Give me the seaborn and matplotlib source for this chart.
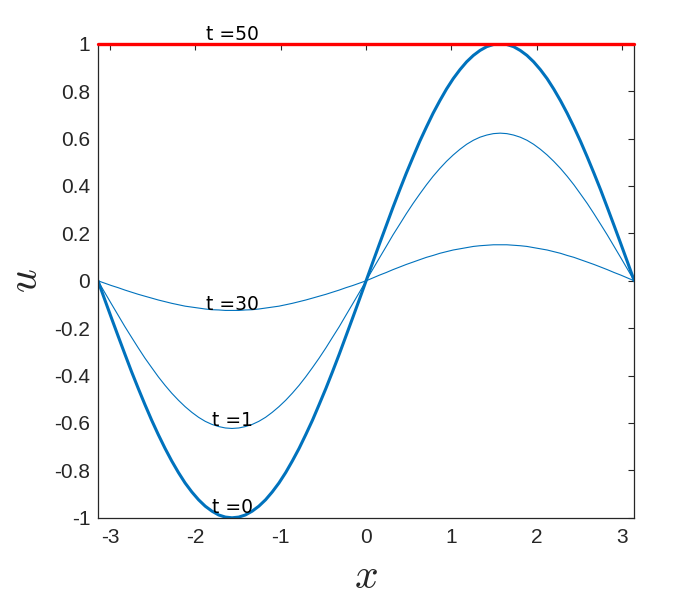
import matplotlib
import matplotlib.pyplot as plt
import numpy as np
import pandas as pd
import seaborn as sns

matplotlib.use("Agg")

# ── Data ──────────────────────────────────────────────────────────────────────

x_vals = [
    -3.142, -3.063, -2.985, -2.906, -2.827, -2.749, -2.670, -2.592, -2.513, -2.435,
    -2.356, -2.278, -2.199, -2.121, -2.042, -1.963, -1.885, -1.806, -1.728, -1.649,
    -1.571, -1.492, -1.414, -1.335, -1.257, -1.178, -1.100, -1.021, -0.942, -0.864,
    -0.785, -0.707, -0.628, -0.550, -0.471, -0.393, -0.314, -0.236, -0.157, -0.079,
    0.000,
    0.079, 0.157, 0.236, 0.314, 0.393, 0.471, 0.550, 0.628, 0.707, 0.785,
    0.864, 0.942, 1.021, 1.100, 1.178, 1.257, 1.335, 1.414, 1.492, 1.571,
    1.649, 1.728, 1.806, 1.885, 1.963, 2.042, 2.121, 2.199, 2.278, 2.356,
    2.435, 2.513, 2.592, 2.670, 2.749, 2.827, 2.906, 2.985, 3.063, 3.142,
]

# t = 0 (thick)
u_t0 = [
    0.000, -0.079, -0.156, -0.233, -0.309, -0.383, -0.454, -0.522, -0.588, -0.649,
    -0.707, -0.760, -0.809, -0.853, -0.891, -0.924, -0.951, -0.972, -0.988, -0.997,
    -1.000, -0.997, -0.988, -0.972, -0.951, -0.924, -0.891, -0.853, -0.809, -0.760,
    -0.707, -0.649, -0.588, -0.522, -0.454, -0.383, -0.309, -0.233, -0.156, -0.079,
    0.000,
    0.079, 0.156, 0.233, 0.309, 0.383, 0.454, 0.522, 0.588, 0.649, 0.707,
    0.760, 0.809, 0.853, 0.891, 0.924, 0.951, 0.972, 0.988, 0.997, 1.000,
    0.997, 0.988, 0.972, 0.951, 0.924, 0.891, 0.853, 0.809, 0.760, 0.707,
    0.649, 0.588, 0.522, 0.454, 0.383, 0.309, 0.233, 0.156, 0.079, 0.000,
]

# t = 1
u_t1 = [
    0.000, -0.049, -0.097, -0.145, -0.193, -0.238, -0.283, -0.326, -0.366, -0.405,
    -0.441, -0.474, -0.504, -0.531, -0.555, -0.576, -0.593, -0.606, -0.615, -0.621,
    -0.623, -0.621, -0.615, -0.606, -0.593, -0.576, -0.555, -0.531, -0.504, -0.474,
    -0.441, -0.405, -0.366, -0.326, -0.283, -0.238, -0.193, -0.145, -0.097, -0.049,
    0.000,
    0.049, 0.097, 0.145, 0.193, 0.238, 0.283, 0.326, 0.366, 0.405, 0.441,
    0.474, 0.504, 0.531, 0.555, 0.576, 0.593, 0.606, 0.615, 0.621, 0.623,
    0.621, 0.615, 0.606, 0.593, 0.576, 0.555, 0.531, 0.504, 0.474, 0.441,
    0.405, 0.366, 0.326, 0.283, 0.238, 0.193, 0.145, 0.097, 0.049, 0.000,
]

# t = 30
u_t30 = [
    0.000, -0.010, -0.020, -0.029, -0.039, -0.048, -0.057, -0.065, -0.073, -0.081,
    -0.088, -0.095, -0.101, -0.107, -0.111, -0.115, -0.119, -0.122, -0.123, -0.125,
    -0.125, -0.125, -0.123, -0.122, -0.119, -0.115, -0.111, -0.107, -0.101, -0.095,
    -0.088, -0.081, -0.073, -0.065, -0.057, -0.048, -0.039, -0.029, -0.020, -0.010,
    0.000,
    0.012, 0.024, 0.035, 0.047, 0.058, 0.069, 0.079, 0.089, 0.099, 0.107,
    0.116, 0.123, 0.130, 0.135, 0.140, 0.145, 0.148, 0.150, 0.152, 0.152,
    0.152, 0.150, 0.148, 0.145, 0.140, 0.135, 0.130, 0.123, 0.116, 0.107,
    0.099, 0.089, 0.079, 0.069, 0.058, 0.047, 0.035, 0.024, 0.012, 0.000,
]

# t = 50 (steady state)
x_t50 = [-3.142, 3.142]
u_t50 = [1.0, 1.0]

label_text = ["t =50", "t =30", "t =1", "t =0"]
label_x = [-1.57, -1.57, -1.57, -1.57]
label_y = [1.015, -0.122, -0.611, -0.979]

x_ticks = [-3, -2, -1, 0, 1, 2, 3]
y_ticks = [-1, -0.8, -0.6, -0.4, -0.2, 0, 0.2, 0.4, 0.6, 0.8, 1]
y_ticklabels = ["-1", "-0.8", "-0.6", "-0.4", "-0.2", "0", "0.2", "0.4", "0.6", "0.8", "1"]

BLUE = "#0072BD"
RED = "#FF0000"
INK = "#262626"

# ── Plot ──────────────────────────────────────────────────────────────────────

sns.set_theme(style="white")
plt.rcParams["font.family"] = ["Liberation Sans", "DejaVu Sans"]
plt.rcParams["mathtext.fontset"] = "cm"

df = pd.DataFrame({"x": x_vals, "t0": u_t0, "t1": u_t1, "t30": u_t30})
df50 = pd.DataFrame({"x": x_t50, "u": u_t50})

fig = plt.figure(figsize=(7, 6), dpi=100)
ax = fig.add_axes([0.14, 0.137, 0.766, 0.79])

sns.lineplot(data=df, x="x", y="t0", ax=ax, color=BLUE, linewidth=2.2, sort=False)
sns.lineplot(data=df, x="x", y="t1", ax=ax, color=BLUE, linewidth=0.8, sort=False)
sns.lineplot(data=df, x="x", y="t30", ax=ax, color=BLUE, linewidth=0.8, sort=False)
sns.lineplot(data=df50, x="x", y="u", ax=ax, color=RED, linewidth=2.4, sort=False,
             clip_on=False, zorder=5)

for txt, tx, ty in zip(label_text, label_x, label_y):
    ax.text(tx, ty, txt, ha="center", va="baseline", fontsize=13.5,
            family="DejaVu Sans", color="black", clip_on=False)

ax.set_xlim(-np.pi, np.pi)
ax.set_ylim(-1, 1)
ax.set_xticks(x_ticks)
ax.set_xticklabels([str(t) for t in x_ticks])
ax.set_yticks(y_ticks)
ax.set_yticklabels(y_ticklabels)
ax.tick_params(direction="in", length=4, width=0.8, colors=INK, labelsize=15,
               top=True, right=True)
ax.tick_params(axis="x", pad=7)
ax.tick_params(axis="y", pad=5.5)

for sp in ax.spines.values():
    sp.set_visible(True)
    sp.set_color(INK)
    sp.set_linewidth(0.9)

ax.set_xlabel(r"$x$", fontsize=30, color=INK)
ax.xaxis.label.set_va("center")
ax.xaxis.set_label_coords(0.5, -0.124)
ax.set_ylabel(r"$u$", fontsize=30, color=INK)
ax.yaxis.label.set_va("center")
ax.yaxis.label.set_ha("center")
ax.yaxis.set_label_coords(-0.134, 0.5)

fig.savefig("out.png", dpi=100, facecolor="white")
plt.close(fig)
